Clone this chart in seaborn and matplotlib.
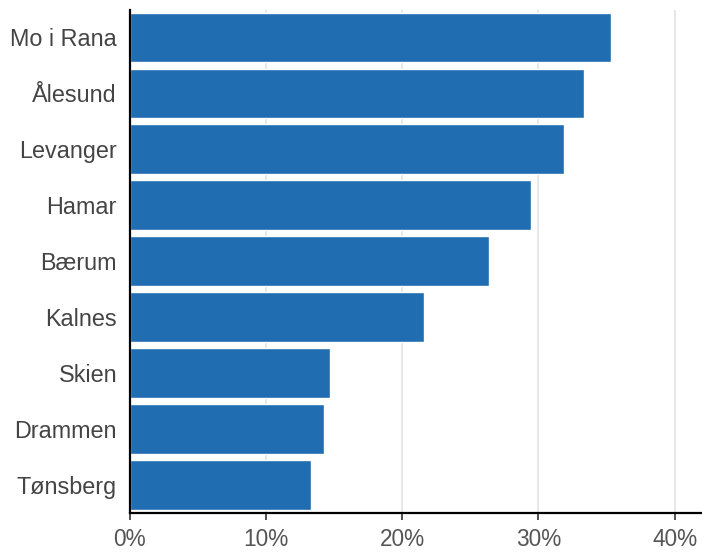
import matplotlib
matplotlib.use("Agg")
import matplotlib.pyplot as plt
import seaborn as sns
import pandas as pd
from matplotlib.ticker import FuncFormatter

cities = ["Mo i Rana", "Ålesund", "Levanger", "Hamar", "Bærum",
          "Kalnes", "Skien", "Drammen", "Tønsberg"]
values = [35.3, 33.35, 31.85, 29.45, 26.35, 21.6, 14.7, 14.25, 13.35]
xticks = [0, 10, 20, 30, 40]

df = pd.DataFrame({"city": cities, "value": values})

sns.set_theme(style="white")
plt.rcParams["font.family"] = ["Liberation Sans", "DejaVu Sans"]

fig = plt.figure(figsize=(7.02, 5.56), dpi=100)
ax = fig.add_axes([129.5 / 702, 1 - 513 / 556, (702 - 129.5) / 702, (513 - 9.5) / 556])

sns.barplot(data=df, x="value", y="city", orient="h", color="#216db2",
            width=0.89, saturation=1, ax=ax, zorder=2)

ax.set_xlim(0, 42.0)
ax.set_ylim(8.5, -0.5)
ax.set_xticks(xticks)
ax.xaxis.set_major_formatter(FuncFormatter(lambda v, p: f"{v:.0f}%"))
ax.grid(axis="x", color="#e3e3e3", linewidth=1.2, zorder=0)
ax.set_axisbelow(True)
ax.set_xlabel("")
ax.set_ylabel("")

for s in ["top", "right"]:
    ax.spines[s].set_visible(False)
for s in ["left", "bottom"]:
    ax.spines[s].set_color("black")
    ax.spines[s].set_linewidth(1.6)

ax.tick_params(axis="x", bottom=True, length=5, width=1.2, color="#333333",
               labelsize=16.3, labelcolor="#555555", pad=6)
ax.tick_params(axis="y", left=False, length=0, labelsize=16.8,
               labelcolor="#444444", pad=9)

fig.savefig("out.png", dpi=100)
